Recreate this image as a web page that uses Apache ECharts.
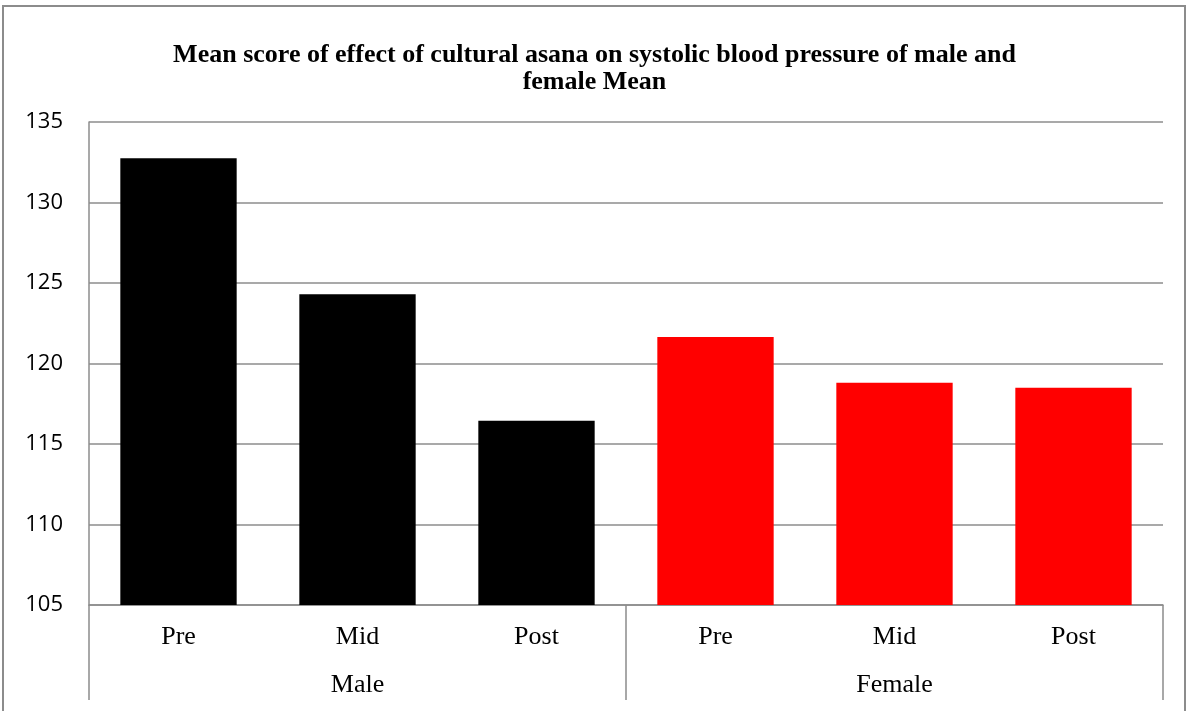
<!DOCTYPE html>
<html>
<head>
<meta charset="utf-8">
<script src="https://cdn.jsdelivr.net/npm/echarts@6/dist/echarts.min.js"></script>
<style>
  html, body { margin: 0; padding: 0; background: #fff; }
  #main { width: 1189px; height: 711px; }
</style>
</head>
<body>
<div id="main"></div>
<script>
var phases = ['Pre', 'Mid', 'Post', 'Pre', 'Mid', 'Post'];
var groups = ['Male', 'Female'];
var meanScores = [132.75, 124.3, 116.45, 121.65, 118.8, 118.5];
var groupColors = ['#000000', '#ff0000'];

var chart = echarts.init(document.getElementById('main'));

var option = {
  animation: false,
  title: {
    text: 'Mean score of effect of cultural asana on systolic blood pressure of male and\nfemale Mean',
    left: 'center',
    top: 37,
    textStyle: {
      fontFamily: 'Liberation Serif',
      fontWeight: 'bold',
      fontSize: 26,
      lineHeight: 27,
      color: '#000'
    }
  },
  graphic: [{
    type: 'rect',
    shape: { x: 3, y: 6, width: 1182, height: 720 },
    style: { fill: 'none', stroke: '#8c8c8c', lineWidth: 2 },
    silent: true
  }],
  grid: { left: 89, right: 26, top: 122, bottom: 106 },
  xAxis: [{
    type: 'category',
    data: phases,
    position: 'bottom',
    axisLine: { show: true, lineStyle: { color: '#8c8c8c', width: 1.5 } },
    axisTick: { show: false },
    axisLabel: {
      margin: 19,
      fontFamily: 'Liberation Serif',
      fontSize: 26,
      color: '#000'
    }
  }, {
    type: 'category',
    data: groups,
    position: 'bottom',
    axisLine: { show: false },
    axisTick: { show: true, interval: 0, length: 95, lineStyle: { color: '#8c8c8c', width: 1.5 } },
    axisLabel: {
      margin: 67,
      fontFamily: 'Liberation Serif',
      fontSize: 26,
      color: '#000'
    }
  }],
  yAxis: {
    type: 'value',
    min: 105,
    max: 135,
    interval: 5,
    axisLine: { show: true, lineStyle: { color: '#8c8c8c', width: 1.5 } },
    axisTick: { show: false },
    splitLine: { lineStyle: { color: '#8c8c8c', width: 1.5 } },
    axisLabel: {
      margin: 26,
      fontFamily: 'Open Sans',
      fontSize: 22,
      color: '#000'
    }
  },
  series: [{
    type: 'bar',
    xAxisIndex: 0,
    barWidth: '65%',
    data: meanScores,
    itemStyle: {
      color: function (p) {
        return groupColors[p.dataIndex < 3 ? 0 : 1];
      }
    }
  }]
};

chart.setOption(option);
</script>
</body>
</html>
